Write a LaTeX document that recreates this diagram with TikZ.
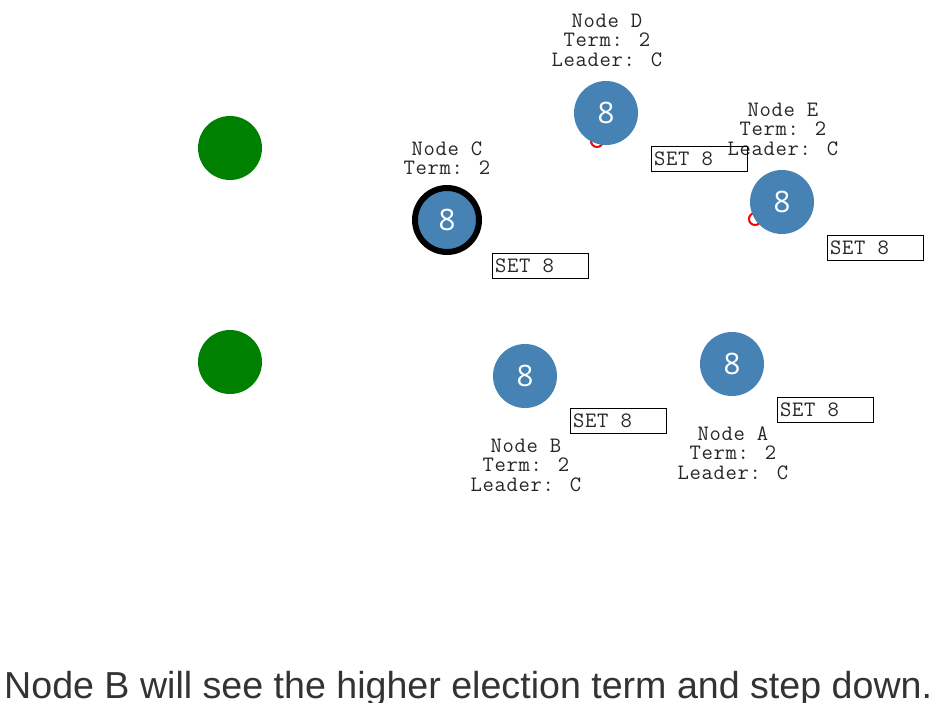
\documentclass[tikz,border=0pt]{standalone}
\usepackage{fontspec}
\setmainfont{Liberation Sans}
\newfontfamily\monof[LetterSpace=3]{Latin Modern Mono}
\newfontfamily\numf{Open Sans}
\newcommand{\lblfont}{\monof\fontsize{22}{22}\selectfont}
\definecolor{peerblue}{RGB}{70,130,180}
\definecolor{cgreen}{RGB}{0,128,0}
\definecolor{captxt}{RGB}{51,51,51}
\tikzset{
  peer/.style={circle, fill=peerblue, minimum size=64pt, inner sep=0pt, text=white, font=\numf\fontsize{29.5}{29.5}\selectfont},
  leaderring/.style={draw=black, line width=6pt},
  client/.style={circle, fill=cgreen, minimum size=64pt, inner sep=0pt},
  lbl/.style={anchor=base, inner sep=0pt, font=\lblfont, text=black!85},
  setbox/.style={draw=black, line width=1.3pt, anchor=north west, minimum width=96pt, minimum height=25pt, inner sep=0pt},
  settxt/.style={anchor=base west, inner sep=0pt, font=\lblfont, text=black!85},
  ping/.style={draw=red, line width=2pt, fill=none}
}
\begin{document}
\begin{tikzpicture}[x=1pt,y=-1pt]
\useasboundingbox (0,0) rectangle (939,702);
% clients
\node[client] (g1) at (230,148) {};
\node[client] (g2) at (230,362) {};
% small red rings (behind peers)
\draw[ping] (597,141) circle (6);
\draw[ping] (755,219) circle (6);
% peers
\node[peer, leaderring] (C) at (447,220) {8};
\node[peer] (D) at (606,113) {8};
\node[peer] (E) at (782,202) {8};
\node[peer] (B) at (525,376) {8};
\node[peer] (A) at (732,364) {8};
% labels
\node[lbl] (c1) at (447,155) {Node C};
\node[lbl] (c2) at (447,174.5) {Term: 2};
\node[lbl] (d1) at (607,27) {Node D};
\node[lbl] (d2) at (607,46.5) {Term: 2};
\node[lbl] (d3) at (607,66) {Leader: C};
\node[lbl] (e1) at (783,116) {Node E};
\node[lbl] (e2) at (783,135.5) {Term: 2};
\node[lbl] (e3) at (783,155) {Leader: C};
\node[lbl] (b1) at (526,452) {Node B};
\node[lbl] (b2) at (526,471.5) {Term: 2};
\node[lbl] (b3) at (526,491) {Leader: C};
\node[lbl] (a1) at (733,440) {Node A};
\node[lbl] (a2) at (733,459.5) {Term: 2};
\node[lbl] (a3) at (733,479) {Leader: C};
% SET boxes
\node[setbox] (sd) at (651,146) {};
\node[settxt] (sdt) at (654,165) {SET 8};
\node[setbox] (se) at (827,235) {};
\node[settxt] (set) at (830,254) {SET 8};
\node[setbox] (sc) at (492,253) {};
\node[settxt] (sct) at (495,272) {SET 8};
\node[setbox] (sb) at (570,408) {};
\node[settxt] (sbt) at (573,427) {SET 8};
\node[setbox] (sa) at (777,397) {};
\node[settxt] (sat) at (780,416) {SET 8};
% caption
\node[anchor=base west, inner sep=0pt, text=captxt, font=\fontsize{37.6}{37.6}\selectfont] (cap) at (4,698) {Node B will see the higher election term and step down.};
\end{tikzpicture}
\end{document}
